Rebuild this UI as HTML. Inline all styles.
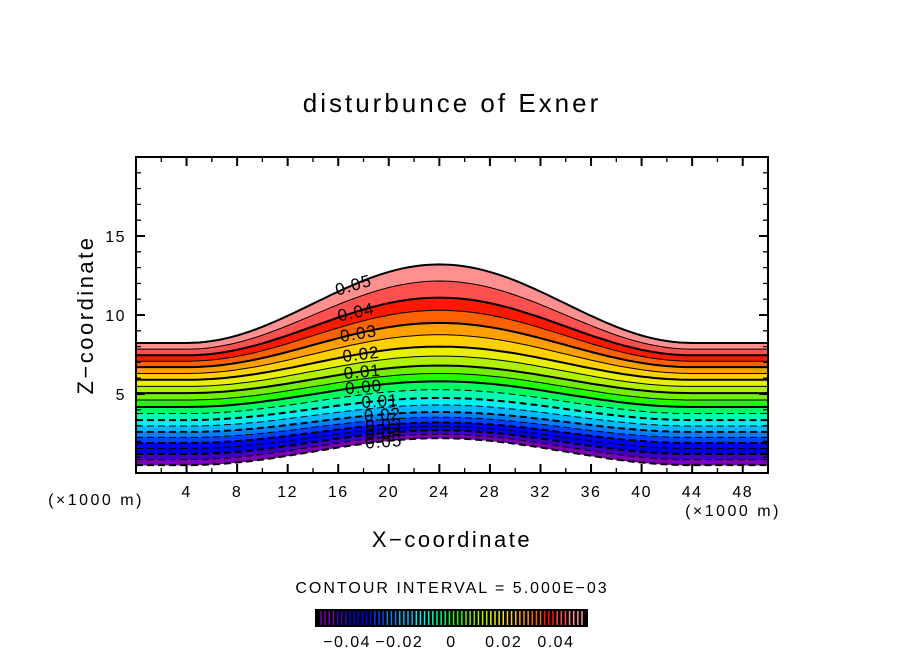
<!DOCTYPE html>
<html><head><meta charset="utf-8">
<style>
html,body{margin:0;padding:0;background:#fff;}
svg{display:block;font-family:"Liberation Sans",sans-serif;}
</style></head>
<body>
<svg id="chart" width="904" height="654" viewBox="0 0 904 654" xmlns="http://www.w3.org/2000/svg">
<rect width="904" height="654" fill="#fff"/>
<text x="452" y="112" font-size="26" text-anchor="middle" letter-spacing="3">disturbunce of Exner</text>
<g id="plot"></g>
<g id="axes"></g>
<text transform="translate(93,315) rotate(-90)" font-size="22" text-anchor="middle" letter-spacing="2.5">Z−coordinate</text>
<text x="452" y="547" font-size="22" text-anchor="middle" letter-spacing="2.5">X−coordinate</text>
<text x="96" y="505" font-size="16" text-anchor="middle" letter-spacing="2.5">(×1000 m)</text>
<text x="733" y="516" font-size="16" text-anchor="middle" letter-spacing="2.5">(×1000 m)</text>
<text x="452" y="593" font-size="16" text-anchor="middle" letter-spacing="2">CONTOUR INTERVAL = 5.000E−03</text>
<g id="cbar"></g>
</svg>
<script>
// ---- data ----
const majorLevels = [0.05,0.04,0.03,0.02,0.01,0.00,-0.01,-0.02,-0.03,-0.04,-0.05];
const zAtEdge   = [8.23,7.45,6.7,5.9,5.06,4.18,3.35,2.6,1.9,1.2,0.5];
const zAtCrest  = [13.2,11.1,9.5,8.0,6.8,5.8,4.75,3.86,3.2,2.7,2.2];
const labelText = ["0.05","0.04","0.03","0.02","0.01","0.00","-0.01","-0.02","-0.03","-0.04","-0.05"];
const labelX    = [17.2,17.4,17.6,17.8,17.9,18.0,19.3,19.5,19.6,19.6,19.6];
const xTickLabels = [4,8,12,16,20,24,28,32,36,40,44,48];
const yTickLabels = [5,10,15];
const cbarTickValues = [-0.04,-0.02,0,0.02,0.04];
const cbarTickText = ["−0.04","−0.02","0","0.02","0.04"];
const bandColors = ["#7a00b0","#3c00c8","#0000e0","#0000ff","#0040ff","#0080ff","#00b8ff","#00f0f0","#00ffb0","#00ff60",
                    "#20ff00","#70f000","#b0f000","#e8f000","#ffd000","#ffa000","#ff6000","#ff1800","#ff5050","#ff9090"];
// ---- layout ----
const X0=136,X1=768,Y0=157,Y1=473;
const sx=v=>X0+(v/50)*(X1-X0);
const sy=v=>Y1-(v/20)*(Y1-Y0);
const NS="http://www.w3.org/2000/svg";
function mk(tag,attrs,parent){const e=document.createElementNS(NS,tag);for(const k in attrs)e.setAttribute(k,attrs[k]);parent.appendChild(e);return e;}
const hill=x=>Math.abs(x-24)<20?(1+Math.cos(Math.PI*(x-24)/20))/2:0;
const edgeZ=[],crestZ=[],levs=[];
for(let i=0;i<majorLevels.length;i++){
  edgeZ.push(zAtEdge[i]);crestZ.push(zAtCrest[i]);levs.push(majorLevels[i]);
  if(i<majorLevels.length-1){edgeZ.push((zAtEdge[i]+zAtEdge[i+1])/2);crestZ.push((zAtCrest[i]+zAtCrest[i+1])/2);levs.push((majorLevels[i]+majorLevels[i+1])/2);}
}
const xs=[];for(let x=0;x<=50.001;x+=0.5)xs.push(x);
const zOf=(i,x)=>edgeZ[i]+(crestZ[i]-edgeZ[i])*hill(x);
const plot=document.getElementById('plot');
for(let i=0;i<levs.length-1;i++){
  const pts=[];
  xs.forEach(x=>pts.push(sx(x).toFixed(1)+','+sy(zOf(i,x)).toFixed(1)));
  [...xs].reverse().forEach(x=>pts.push(sx(x).toFixed(1)+','+sy(zOf(i+1,x)).toFixed(1)));
  const c=bandColors[bandColors.length-1-i];
  const p=mk('polygon',{points:pts.join(' '),fill:c,stroke:c,'stroke-width':0.6},plot);
  
  
}
for(let i=0;i<levs.length;i++){
  const pts=xs.map(x=>sx(x).toFixed(1)+','+sy(zOf(i,x)).toFixed(1)).join(' ');
  const major=i%2===0;
  const a={points:pts,fill:'none',stroke:'#000','stroke-width':major?2:1};
  if(levs[i]<-1e-9)a['stroke-dasharray']='7,4';
  const l=mk('polyline',a,plot);
  
  
}
for(let k=0;k<majorLevels.length;k++){
  const i=k*2,x=labelX[k];
  const slope=(sy(zOf(i,x+0.5))-sy(zOf(i,x-0.5)))/(sx(x+0.5)-sx(x-0.5));
  const ang=Math.atan(slope)*180/Math.PI*0.7;
  const t=mk('text',{x:sx(x),y:sy(zOf(i,x))+6,'font-size':17,'text-anchor':'middle','letter-spacing':1,transform:`rotate(${ang.toFixed(1)},${sx(x)},${sy(zOf(i,x))})`},plot);
  t.textContent=labelText[k].replace('-','');
  
  
}
const ax=document.getElementById('axes');
mk('rect',{x:X0,y:Y0,width:X1-X0,height:Y1-Y0,fill:'none',stroke:'#000','stroke-width':2},ax);
for(let v=2;v<50;v+=2){
  const maj=v%4===0,L=maj?9:5;
  mk('line',{x1:sx(v),x2:sx(v),y1:Y1,y2:Y1-L,stroke:'#000','stroke-width':maj?2:1.3},ax);
  mk('line',{x1:sx(v),x2:sx(v),y1:Y0,y2:Y0+L,stroke:'#000','stroke-width':maj?2:1.3},ax);
}
for(let v=1;v<20;v++){
  const maj=v%5===0,L=maj?9:5;
  mk('line',{y1:sy(v),y2:sy(v),x1:X0,x2:X0+L,stroke:'#000','stroke-width':maj?2:1.3},ax);
  mk('line',{y1:sy(v),y2:sy(v),x1:X1,x2:X1-L,stroke:'#000','stroke-width':maj?2:1.3},ax);
}
xTickLabels.forEach(v=>{
  const t=mk('text',{x:sx(v),y:Y1+24,'font-size':16,'text-anchor':'middle','letter-spacing':1.5},ax);t.textContent=v;
  
  
});
yTickLabels.forEach(v=>{
  const t=mk('text',{x:X0-10,y:sy(v)+6,'font-size':16,'text-anchor':'end','letter-spacing':1.5},ax);t.textContent=v;
  
  
});
const cb=document.getElementById('cbar');
const CX0=315,CX1=588,CY0=609,CY1=627;
mk('rect',{x:CX0,y:CY0,width:CX1-CX0,height:CY1-CY0,fill:'#000'},cb);
const cval=v=>CX0+6+(v+0.05)/0.1*(CX1-CX0-12);
const nLines=64;
for(let j=0;j<nLines;j++){
  const v=-0.05+0.1*j/(nLines-1);
  const bi=Math.min(bandColors.length-1,Math.floor((v+0.05)/0.005));
  const l=mk('line',{x1:cval(v),x2:cval(v),y1:CY0+2,y2:CY1-2,stroke:bandColors[bi],'stroke-width':1.5},cb);
  
  
}
cbarTickValues.forEach((v,k)=>{
  const t=mk('text',{x:cval(v),y:647,'font-size':16,'text-anchor':'middle','letter-spacing':1.5},cb);t.textContent=cbarTickText[k];
  
  
});
</script>
</body></html>
